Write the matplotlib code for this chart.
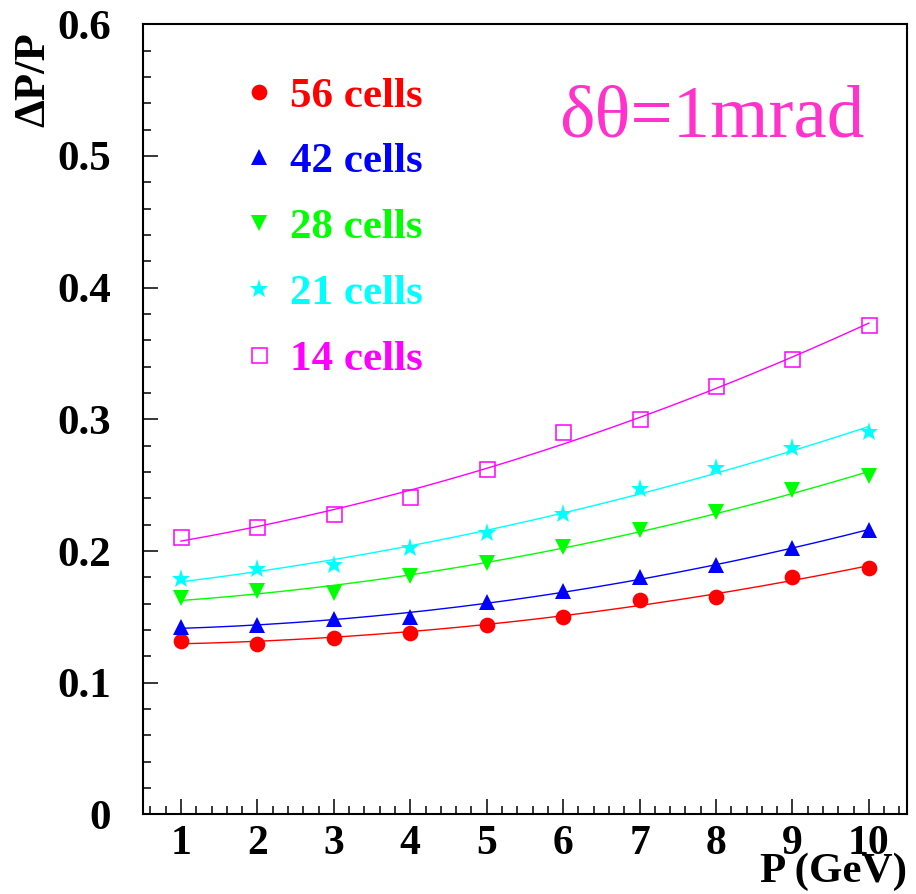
import matplotlib
matplotlib.use("Agg")
import matplotlib.pyplot as plt
import numpy as np
from matplotlib.ticker import MultipleLocator, FuncFormatter

plt.rcParams["font.family"] = ["Liberation Serif", "DejaVu Serif"]

# momentum points (GeV)
p = [1, 2, 3, 4, 5, 6, 7, 8, 9, 10]

# dP/P for each segmentation
res_56 = [0.132, 0.129, 0.134, 0.138, 0.144, 0.150, 0.163, 0.165, 0.180, 0.187]
res_42 = [0.142, 0.144, 0.148, 0.150, 0.161, 0.170, 0.180, 0.189, 0.202, 0.216]
res_28 = [0.164, 0.170, 0.168, 0.181, 0.191, 0.203, 0.216, 0.230, 0.246, 0.257]
res_21 = [0.179, 0.186, 0.189, 0.202, 0.214, 0.228, 0.247, 0.263, 0.278, 0.290]
res_14 = [0.211, 0.218, 0.228, 0.241, 0.262, 0.290, 0.300, 0.325, 0.346, 0.372]

labels = ["56 cells", "42 cells", "28 cells", "21 cells", "14 cells"]
colors = ["#ff0000", "#0000ff", "#00ff00", "#00ffff", "#ff00ff"]
markers = ["o", "^", "v", "*", "s"]

fig = plt.figure(figsize=(9.16, 8.94), dpi=100)
ax = fig.add_axes([0.1558, 0.0891, 0.8344, 0.8837])

pfine = np.linspace(1, 10, 200)
for vals, lab, col, mk in zip([res_56, res_42, res_28, res_21, res_14],
                              labels, colors, markers):
    # smooth fit through the points, like the original
    coef = np.polyfit(p, vals, 2)
    ax.plot(pfine, np.polyval(coef, pfine), "-", color=col, lw=1.0)
    size = 14 if mk == "*" else 11.3
    if mk == "s":
        ax.plot(p, vals, linestyle="none", marker=mk, markersize=10.8,
                markerfacecolor="none", markeredgecolor=col,
                markeredgewidth=1.1, label=lab)
    else:
        ax.plot(p, vals, linestyle="none", marker=mk, markersize=size,
                color=col, markeredgewidth=0, label=lab)

ax.set_xlim(0.5, 10.5)
ax.set_ylim(0, 0.6)

ax.xaxis.set_major_locator(MultipleLocator(1))
ax.xaxis.set_minor_locator(MultipleLocator(0.2))
ax.yaxis.set_major_locator(MultipleLocator(0.1))
ax.yaxis.set_minor_locator(MultipleLocator(0.02))
ax.yaxis.set_major_formatter(FuncFormatter(lambda v, pos: "0" if abs(v) < 1e-9 else f"{v:.1f}"))

ax.tick_params(which="both", direction="in", top=False, right=False,
               width=1.1, color="black")
ax.tick_params(which="major", length=10.8)
ax.tick_params(which="minor", length=5.6)
ax.tick_params(axis="y", which="major", pad=23, labelsize=31)
ax.tick_params(axis="x", which="major", pad=8, labelsize=30)
for lbl in ax.get_xticklabels() + ax.get_yticklabels():
    lbl.set_fontweight("bold")

for sp in ax.spines.values():
    sp.set_linewidth(1.5)

ax.set_xlabel("P (GeV)", loc="right", fontsize=31, fontweight="bold")
ax.xaxis.set_label_coords(1.0, -0.048)
ax.set_ylabel("ΔP/P", loc="top", fontsize=32, fontweight="bold")
ax.yaxis.set_label_coords(-0.117, 0.99)

leg = ax.legend(loc="upper left", bbox_to_anchor=(0.129, 0.934), frameon=False,
                prop={"weight": "bold", "size": 31},
                numpoints=1, handlelength=0.8, handletextpad=0.32,
                labelspacing=0.62, borderpad=0, borderaxespad=0)
for txt, col in zip(leg.get_texts(), colors):
    txt.set_color(col)

ax.text(0.5445, 0.8586, "δθ=1mrad", transform=ax.transAxes, color="#ff33cc",
        fontsize=54, ha="left", va="baseline")

fig.savefig("out.png", dpi=100)
